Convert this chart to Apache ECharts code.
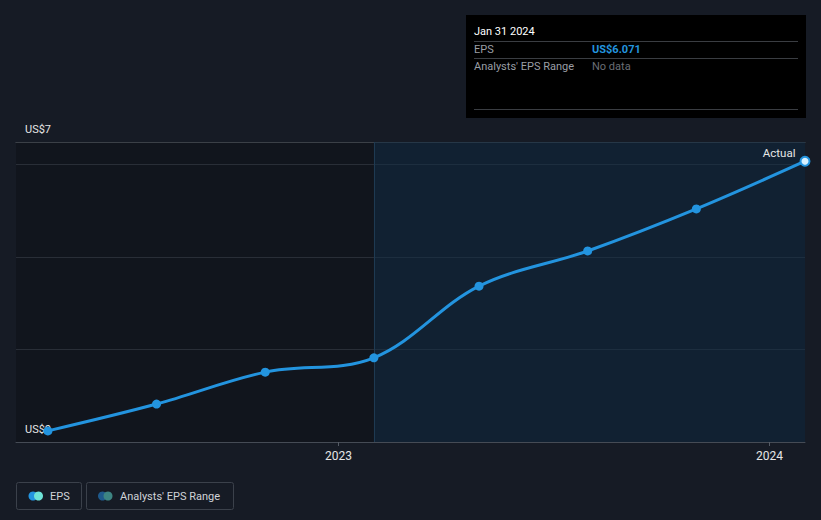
<!DOCTYPE html>
<html>
<head>
<meta charset="utf-8">
<style>
html,body{margin:0;padding:0;background:#161b25;}
#c{width:821px;height:520px;}
</style>
<script src="https://cdn.jsdelivr.net/npm/echarts@6/dist/echarts.min.js"></script>
</head>
<body>
<div id="c"></div>
<script>
const dates = ['2022-04-30','2022-07-31','2022-10-31','2023-01-31','2023-04-30','2023-07-31','2023-10-31','2024-01-31'];
const eps = [0.24, 0.82, 1.51, 1.82, 3.37, 4.13, 5.04, 6.071];
const xMin = '2022-04-03';
const xMax = '2024-01-31';
const forecastStart = '2023-01-31';
const yearTicks = ['2023-01-01','2024-01-01'];
const yMin = 0, yMax = 6.486;
const yLabels = ['US$7','US$0'];
const tipDate = 'Jan 31 2024';
const tipEps = 'US$6.071';

const FONT = 'Roboto, "Open Sans", sans-serif';
const chart = echarts.init(document.getElementById('c'), null, {renderer:'svg'});
const ts = d => new Date(d + 'T00:00:00Z').getTime();

const data = dates.map((d,i) => {
  const p = {value:[ts(d), eps[i]]};
  if (i === dates.length-1) {
    p.itemStyle = {color:'#d8f0ff', borderColor:'#2394df', borderWidth:2};
    p.label = {show:true, formatter:'Actual', position:[-4,-3], align:'right', verticalAlign:'middle',
      color:'#e6e6e6', fontSize:11.5, fontFamily:FONT};
  }
  return p;
});

chart.setOption({
  backgroundColor:'#161b25',
  animation:false,
  grid:{left:16, right:16, top:142, bottom:78, containLabel:false},
  xAxis:[{
    type:'value', min:ts(xMin), max:ts(xMax),
    axisLine:{show:true, lineStyle:{color:'#454b55', width:1}},
    axisTick:{show:true, customValues:yearTicks.map(ts), length:4, lineStyle:{color:'#555b65'}},
    axisLabel:{show:true, customValues:yearTicks.map(ts), color:'#e6e6e6', fontSize:12, fontFamily:FONT, margin:8,
      formatter: v => String(new Date(v).getUTCFullYear())},
    splitLine:{show:false}
  },{
    type:'value', position:'top', min:ts(xMin), max:ts(xMax),
    axisLine:{show:true, lineStyle:{color:'#4a5059', width:1}},
    axisTick:{show:false}, axisLabel:{show:false}, splitLine:{show:false}
  }],
  yAxis:{
    type:'value', min:yMin, max:yMax, interval:2,
    axisLine:{show:false}, axisTick:{show:false}, axisLabel:{show:false},
    splitLine:{show:true, lineStyle:{color:'#343a45', width:1}}
  },
  series:[{
    type:'line', data:data, smooth:0.35,
    symbol:'circle', symbolSize:9, showSymbol:true,
    lineStyle:{color:'#2394df', width:3},
    itemStyle:{color:'#2394df'},
    clip:false, z:5,
    markArea:{silent:true, data:[
      [{xAxis:ts(xMin), itemStyle:{color:'rgba(0,0,0,0.2)'}},{xAxis:ts(forecastStart)}],
      [{xAxis:ts(forecastStart), itemStyle:{color:'rgba(15,38,60,0.6)'}},{xAxis:ts(xMax)}]
    ]},
    markLine:{silent:true, symbol:'none', label:{show:false}, data:[
      {xAxis:ts(forecastStart), lineStyle:{color:'#1e3a52', width:1, type:'solid'}}
    ]}
  }],
  graphic:[
    {type:'text', left:25, top:124, z:100, style:{text:yLabels[0], fill:'#e6e6e6', font:'11px '+FONT}},
    {type:'text', left:25, top:424, z:5, z2:-10, style:{text:yLabels[1], fill:'#e6e6e6', font:'11px '+FONT}},
    {type:'rect', shape:{x:466, y:15, width:340, height:103}, style:{fill:'#000000'}},
    {type:'text', x:474, y:31, style:{text:tipDate, fill:'#ffffff', font:'11px '+FONT, verticalAlign:'middle'}},
    {type:'line', shape:{x1:474, y1:41.5, x2:798, y2:41.5}, style:{stroke:'#3a3d42', lineWidth:1}},
    {type:'text', x:474, y:49, style:{text:'EPS', fill:'#9a9ea5', font:'11px '+FONT, verticalAlign:'middle'}},
    {type:'text', x:592, y:49, style:{text:tipEps, fill:'#2394df', font:'bold 11px '+FONT, verticalAlign:'middle'}},
    {type:'line', shape:{x1:474, y1:58.5, x2:798, y2:58.5}, style:{stroke:'#3a3d42', lineWidth:1}},
    {type:'text', x:474, y:66, style:{text:"Analysts' EPS Range", fill:'#9a9ea5', font:'11px '+FONT, verticalAlign:'middle'}},
    {type:'text', x:592, y:66, style:{text:'No data', fill:'#6a6e75', font:'11px '+FONT, verticalAlign:'middle'}},
    {type:'line', shape:{x1:474, y1:109.5, x2:798, y2:109.5}, style:{stroke:'#3a3d42', lineWidth:1}},
    {type:'rect', shape:{x:16.5, y:482.5, width:65, height:27, r:2}, style:{fill:'none', stroke:'#3b414b', lineWidth:1}},
    {type:'circle', shape:{cx:33, cy:496, r:4.5}, style:{fill:'#2394df'}},
    {type:'circle', shape:{cx:38.5, cy:496, r:4.5}, style:{fill:'#6ee3d6'}},
    {type:'text', x:50, y:496, style:{text:'EPS', fill:'#d0d3d8', font:'11px '+FONT, verticalAlign:'middle'}},
    {type:'rect', shape:{x:86.5, y:482.5, width:147, height:27, r:2}, style:{fill:'none', stroke:'#3b414b', lineWidth:1}},
    {type:'circle', shape:{cx:102.5, cy:496, r:4.5}, style:{fill:'#1f5a8c'}},
    {type:'circle', shape:{cx:108, cy:496, r:4.5}, style:{fill:'#3d8583'}},
    {type:'text', x:120, y:496, style:{text:"Analysts' EPS Range", fill:'#d0d3d8', font:'11px '+FONT, verticalAlign:'middle'}}
  ]
});
</script>
</body>
</html>
